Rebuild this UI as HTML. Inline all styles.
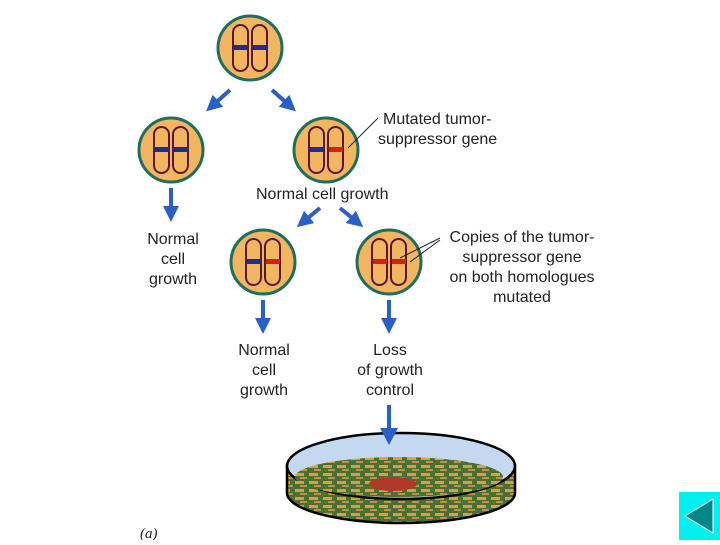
<!DOCTYPE html>
<html><head><style>
body{margin:0;width:720px;height:540px;background:#fff;overflow:hidden;font-family:"Liberation Sans",sans-serif;}
</style></head><body>
<svg width="720" height="540" viewBox="0 0 720 540" xmlns="http://www.w3.org/2000/svg">
<defs>
<g id="cell">
<circle r="32" fill="#f2b560" stroke="#1e6e5e" stroke-width="3"/>
<rect x="-17" y="-23" width="15" height="46" rx="7.5" fill="none" stroke="#5a1838" stroke-width="2"/>
<rect x="2" y="-23" width="15" height="46" rx="7.5" fill="none" stroke="#5a1838" stroke-width="2"/>
</g>
<marker id="ah" markerWidth="4" markerHeight="4" refX="2" refY="2" orient="auto"><path d="M0,0 L4,2 L0,4 Z" fill="#2a5fc8"/></marker>
<pattern id="med" width="14" height="8" patternUnits="userSpaceOnUse"><rect width="14" height="8" fill="#4a7035"/><rect x="1" y="1" width="9" height="3" fill="#d8a040"/><rect x="6" y="5" width="7" height="2" fill="#c89038"/></pattern>
</defs>
<g font-size="16" fill="#222">
<use href="#cell" x="250" y="48"/>
<rect x="234" y="45" width="14" height="5" fill="#1e2f8a"/><rect x="253" y="45" width="14" height="5" fill="#1e2f8a"/>
<use href="#cell" x="171" y="150"/>
<rect x="155" y="147" width="14" height="5" fill="#1e2f8a"/><rect x="174" y="147" width="14" height="5" fill="#1e2f8a"/>
<use href="#cell" x="326" y="150"/>
<rect x="310" y="147" width="14" height="5" fill="#1e2f8a"/><rect x="329" y="147" width="14" height="5" fill="#d82010"/>
<use href="#cell" x="263" y="262"/>
<rect x="247" y="259" width="14" height="5" fill="#1e2f8a"/><rect x="266" y="259" width="14" height="5" fill="#d82010"/>
<use href="#cell" x="389" y="262"/>
<rect x="373" y="259" width="14" height="5" fill="#d82010"/><rect x="392" y="259" width="14" height="5" fill="#d82010"/>
<g stroke="#2a5fc8" stroke-width="4" fill="none" marker-end="url(#ah)">
<line x1="230" y1="90" x2="212" y2="106"/>
<line x1="272" y1="90" x2="290" y2="106"/>
<line x1="171" y1="188" x2="171" y2="214"/>
<line x1="320" y1="208" x2="303" y2="222"/>
<line x1="340" y1="208" x2="357" y2="222"/>
<line x1="263" y1="300" x2="263" y2="326"/>
<line x1="389" y1="300" x2="389" y2="326"/>
</g>
<path d="M389,405 L389,430" stroke="#2a5fc8" stroke-width="4"/>
<g stroke="#222" stroke-width="1"><line x1="378" y1="118" x2="348" y2="148"/><line x1="440" y1="238" x2="400" y2="258"/><line x1="440" y1="240" x2="410" y2="262"/></g>
<text x="383" y="124">Mutated tumor-</text><text x="378" y="144">suppressor gene</text>
<text x="256" y="199">Normal cell growth</text>
<text x="173" y="244" text-anchor="middle">Normal</text><text x="173" y="264" text-anchor="middle">cell</text><text x="173" y="284" text-anchor="middle">growth</text>
<text x="522" y="242" text-anchor="middle">Copies of the tumor-</text><text x="522" y="262" text-anchor="middle">suppressor gene</text><text x="522" y="282" text-anchor="middle">on both homologues</text><text x="522" y="302" text-anchor="middle">mutated</text>
<text x="264" y="355" text-anchor="middle">Normal</text><text x="264" y="375" text-anchor="middle">cell</text><text x="264" y="395" text-anchor="middle">growth</text>
<text x="390" y="355" text-anchor="middle">Loss</text><text x="390" y="375" text-anchor="middle">of growth</text><text x="390" y="395" text-anchor="middle">control</text>
<text x="140" y="538" font-family="Liberation Serif" font-style="italic" font-size="15">(a)</text>
</g>
<path d="M287,466 L287,493 A114,30 0 0 0 515,493 L515,466 Z" fill="url(#med)" stroke="#000" stroke-width="2.5"/>
<ellipse cx="401" cy="466" rx="114" ry="33" fill="#c4d8f0" stroke="#000" stroke-width="2.5"/>
<ellipse cx="399" cy="477" rx="104" ry="20" fill="url(#med)"/>
<ellipse cx="393" cy="484" rx="24" ry="7" fill="#b03828"/>
<polygon points="380,428 398,428 389,445" fill="#2a5fc8"/>
<rect x="679" y="492" width="41" height="48" fill="#00f0f0"/>
<polygon points="685,516 713,499 713,533" fill="#008888" stroke="#fff" stroke-width="1"/>
</svg>
</body></html>
